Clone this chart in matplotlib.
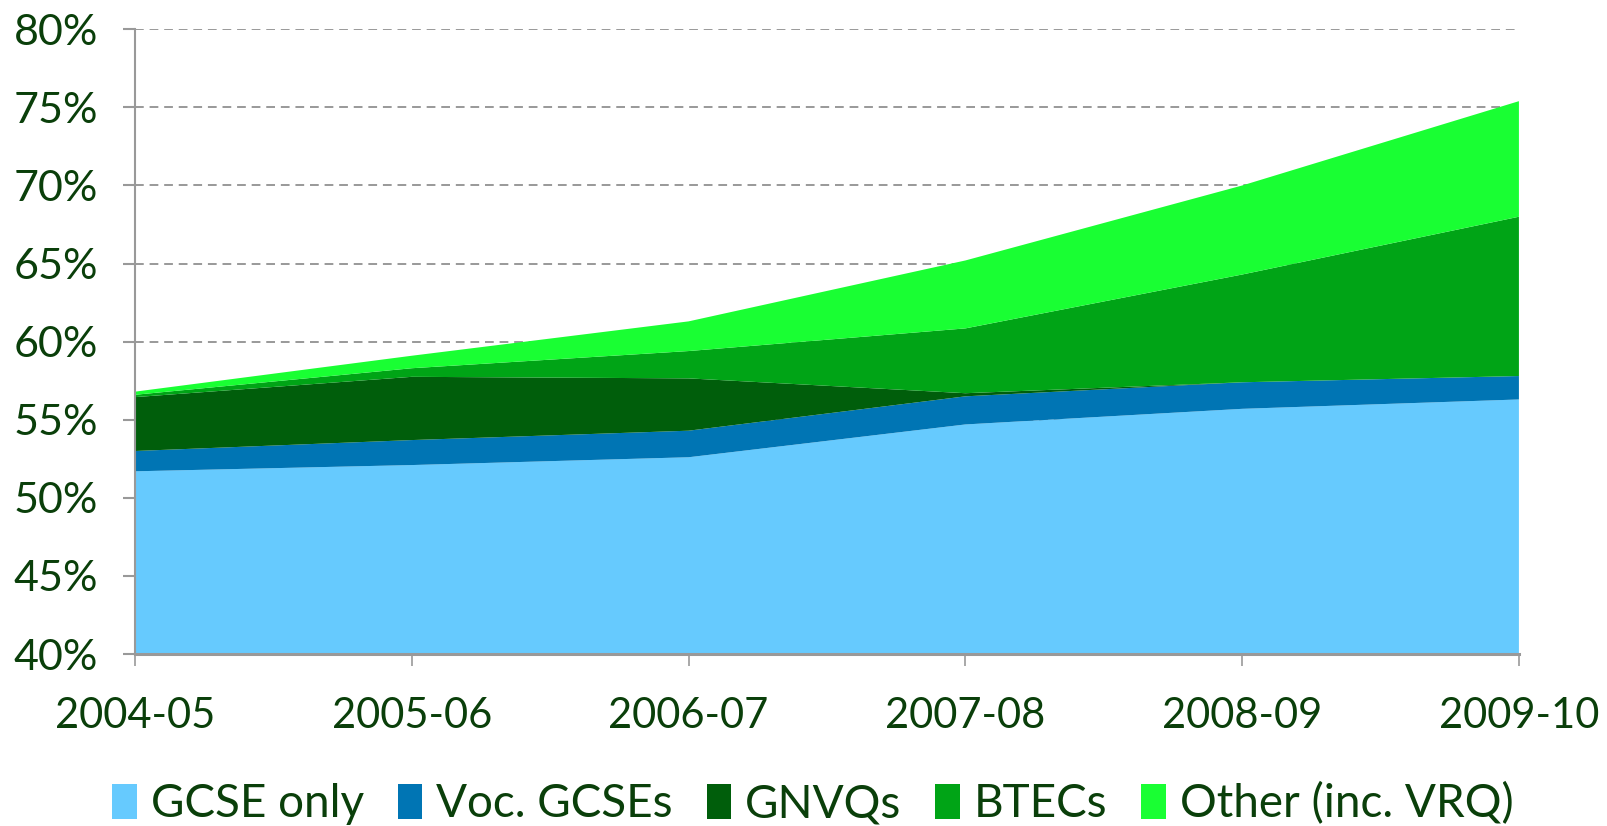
import matplotlib
matplotlib.use("Agg")
import matplotlib.pyplot as plt
from matplotlib.ticker import FuncFormatter

# Data (percentage points per layer, stacked)
years = ["2004-05", "2005-06", "2006-07", "2007-08", "2008-09", "2009-10"]
gcse_only = [51.7, 52.1, 52.6, 54.7, 55.7, 56.3]
voc_gcses = [1.3, 1.6, 1.7, 1.8, 1.7, 1.5]
gnvqs = [3.45, 4.05, 3.35, 0.2, 0.0, 0.0]
btecs = [0.15, 0.55, 1.75, 4.15, 6.9, 10.2]
other = [0.2, 0.8, 1.9, 4.35, 5.7, 7.4]

labels = ["GCSE only", "Voc. GCSEs", "GNVQs", "BTECs", "Other (inc. VRQ)"]
colors = ["#66CAFE", "#0075B4", "#005E0B", "#00A416", "#19FF33"]
text_color = "#0A3F0A"
axis_gray = "#999999"

plt.rcParams["font.family"] = ["Lato", "DejaVu Sans"]

fig = plt.figure(figsize=(16.08, 8.26), dpi=100)
ax = fig.add_axes([0.084, 0.2082, 0.8606, 0.7563])

x = list(range(len(years)))
ax.stackplot(x, gcse_only, voc_gcses, gnvqs, btecs, other,
             colors=colors, labels=labels, zorder=2)

ax.set_xlim(0, len(years) - 1)
ax.set_ylim(40, 80)
ax.set_yticks(range(40, 81, 5))
ax.yaxis.set_major_formatter(FuncFormatter(lambda v, p: "{:d}%".format(int(v))))
ax.set_xticks(x)
ax.set_xticklabels(years)

# dashed horizontal gridlines behind the areas
ax.yaxis.grid(True, linestyle=(0, (4.5, 3)), color=axis_gray, linewidth=1.4, zorder=0)
ax.set_axisbelow(True)

for side in ["top", "right"]:
    ax.spines[side].set_visible(False)
ax.spines["left"].set_color(axis_gray)
ax.spines["left"].set_linewidth(1.5)
ax.spines["bottom"].set_color(axis_gray)
ax.spines["bottom"].set_linewidth(2.2)
ax.spines["bottom"].set_zorder(3)

ax.tick_params(axis="y", colors=axis_gray, length=8.6, width=1.5, pad=18,
               labelsize=31, labelcolor=text_color)
ax.tick_params(axis="x", colors=axis_gray, length=8.6, width=1.2, pad=22,
               labelsize=30, labelcolor=text_color)

handles, lbls = ax.get_legend_handles_labels()
fig.legend(handles, lbls, loc="center", bbox_to_anchor=(0.5055, 0.027), ncol=5,
           frameon=False, fontsize=33, labelcolor=text_color,
           handlelength=0.54, handleheight=0.8, handletextpad=0.3,
           columnspacing=0.74, borderpad=0, borderaxespad=0)

fig.savefig("out.png", dpi=100)
